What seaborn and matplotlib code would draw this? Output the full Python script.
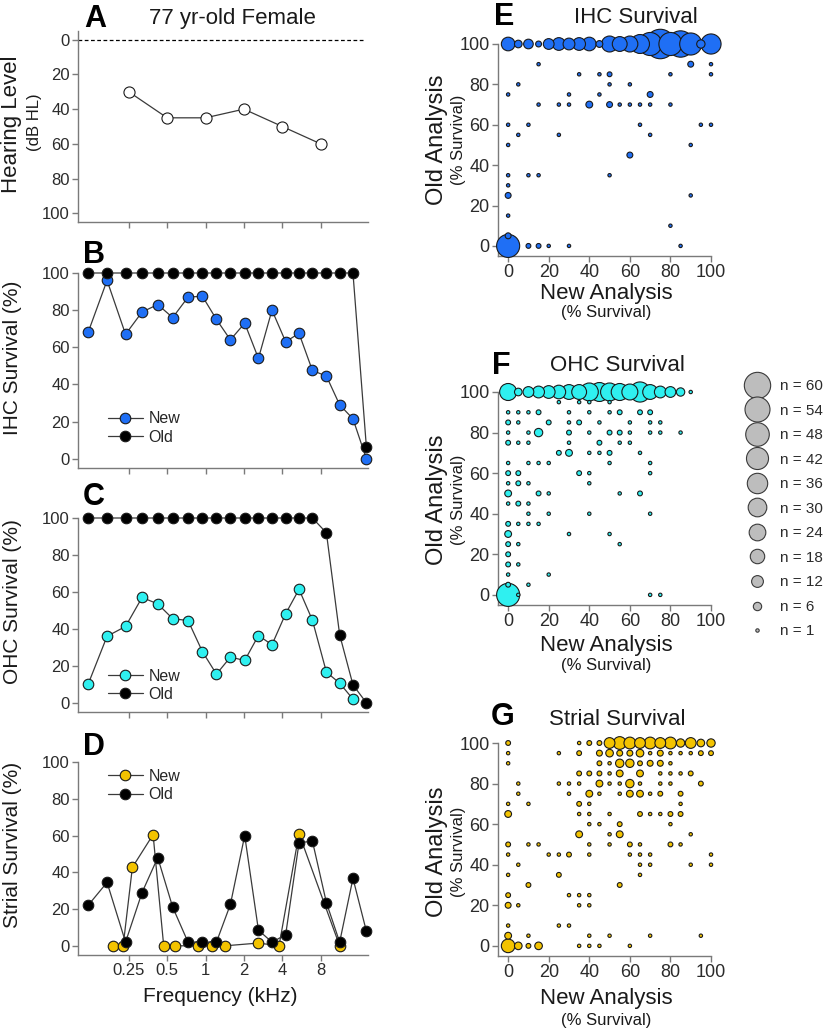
import numpy as np
import pandas as pd
import matplotlib
matplotlib.use("Agg")
import matplotlib.pyplot as plt
import seaborn as sns
from matplotlib.lines import Line2D
from matplotlib.ticker import FixedLocator, NullLocator

# ---------------- data ----------------
# Panel A: audiogram
aud_freq = [0.25, 0.5, 1, 2, 4, 8]
aud_hl = [30, 45, 45, 40, 50, 60]

# Cochlear-place frequencies (kHz) used for survival profiles
place_freq = [0.120, 0.169, 0.236, 0.318, 0.422, 0.553, 0.729, 0.945, 1.218, 1.567,
              2.029, 2.60, 3.32, 4.25, 5.41, 6.89, 8.87, 11.27, 14.33, 18.25]

# Panel B: IHC survival
ihc_new = [68, 96, 67, 79, 83, 76, 87, 87.5, 75, 64, 73, 54, 80, 63, 67.5, 47.5, 44.5, 29, 21.5, 0]
ihc_old = [100, 100, 100, 100, 100, 100, 100, 100, 100, 100, 100, 100, 100, 100, 100, 100, 100, 100, 100, 6.5]

# Panel C: OHC survival
ohc_new_freq = [0.120, 0.169, 0.236, 0.318, 0.422, 0.553, 0.729, 0.945, 1.218, 1.567,
                2.029, 2.60, 3.32, 4.25, 5.41, 6.89, 8.87, 11.27, 14.33]
ohc_new = [10, 36, 41.3, 57, 53.5, 45.5, 44.5, 27.7, 15.5, 24.7, 22.9, 36.4, 31.4, 48.2, 61.4, 44.7, 16.6, 10.6, 2]
ohc_old = [100, 100, 100, 100, 100, 100, 100, 100, 100, 100, 100, 100, 100, 100, 100, 100, 92, 36.8, 9.7, 0]

# Panel D: strial survival
strial_new_freq = [0.188, 0.226, 0.267, 0.388, 0.470, 0.577, 0.880, 1.118, 1.422, 2.60, 3.77, 5.41, 11.27]
strial_new = [0, 0, 42.7, 60.5, 0, 0, 0, 0, 0, 1.5, 0, 61, 0]
strial_old = [22, 34.5, 2, 29, 48, 21, 2, 2, 2, 22.5, 60, 8.5, 2, 6, 56, 57, 23.5, 2, 36.7, 8]

freq_ticks = [0.25, 0.5, 1, 2, 4, 8]
freq_tick_labels = ["0.25", "0.5", "1", "2", "4", "8"]
pct_ticks = [0, 20, 40, 60, 80, 100]

# Panel E: IHC new vs old (x = new %, y = old %, n = count)
ihc_sc_new = [0, 5, 10, 15, 20, 25, 30, 35, 40, 45, 50, 55, 60, 65, 70, 75, 80, 85, 90, 95, 100,
              15, 90, 100, 35, 45, 50, 80, 100, 5, 50, 60, 0, 30, 45, 70,
              15, 25, 30, 40, 50, 55, 60, 65, 70, 80, 0, 10, 65, 95, 100, 5, 25, 70, 0, 90, 60,
              0, 10, 15, 50, 0, 0, 90, 0, 80, 0, 0, 10, 15, 20, 30, 85]
ihc_sc_old = [100, 100, 100, 100, 100, 100, 100, 100, 100, 100, 100, 100, 100, 100, 100, 100, 100, 100, 100, 100, 100,
              90, 90, 90, 85, 85, 85, 85, 85, 80, 80, 80, 75, 75, 75, 75,
              70, 70, 70, 70, 70, 70, 70, 70, 70, 70, 60, 60, 60, 60, 60, 55, 55, 55, 50, 50, 45,
              35, 35, 35, 35, 30, 25, 25, 15, 10, 5, 0, 0, 0, 0, 0, 0]
ihc_sc_n = [16, 5, 8, 3, 10, 14, 12, 14, 16, 4, 22, 19, 22, 31, 46, 75, 46, 60, 42, 6, 35,
            1, 3, 1, 1, 1, 2, 1, 1, 1, 1, 1, 1, 1, 1, 3,
            1, 1, 1, 4, 3, 1, 1, 1, 1, 1, 1, 1, 1, 1, 1, 1, 1, 1, 1, 1, 3,
            1, 1, 1, 1, 1, 3, 1, 1, 1, 3, 46, 2, 2, 1, 1, 1]

# Panel F: OHC new vs old
ohc_sc_new = [0, 5, 10, 15, 20, 25, 30, 35, 40, 45, 50, 55, 60, 65, 70, 75, 80, 85, 90,
              25, 35, 40, 50,
              0, 5, 10, 15, 30, 40, 50, 55, 65, 70,
              0, 5, 20, 30, 35, 45, 60, 70, 75,
              0, 10, 15, 30, 40, 50, 55, 60, 70, 75, 85,
              0, 5, 10, 30, 45, 55, 60,
              25, 30, 40, 45, 50, 65,
              0, 10, 15, 20, 50, 70,
              0, 5, 35, 40, 70,
              0, 5, 10, 40,
              0, 15, 20, 55, 65,
              0, 5, 10,
              10, 20, 40, 70,
              0, 5, 10, 15,
              0, 30, 50,
              0, 5, 55,
              0,
              0, 5,
              0, 20,
              0, 10,
              0, 5, 70, 75]
ohc_sc_old = [100, 100, 100, 100, 100, 100, 100, 100, 100, 100, 100, 100, 100, 100, 100, 100, 100, 100, 100,
              95, 95, 95, 95,
              90, 90, 90, 90, 90, 90, 90, 90, 90, 90,
              85, 85, 85, 85, 85, 85, 85, 85, 85,
              80, 80, 80, 80, 80, 80, 80, 80, 80, 80, 80,
              75, 75, 75, 75, 75, 75, 75,
              70, 70, 70, 70, 70, 70,
              65, 65, 65, 65, 65, 65,
              60, 60, 60, 60, 60,
              55, 55, 55, 55,
              50, 50, 50, 50, 50,
              45, 45, 45,
              40, 40, 40, 40,
              35, 35, 35, 35,
              30, 30, 30,
              25, 25, 25,
              20,
              15, 15,
              10, 10,
              5, 5,
              0, 0, 0, 0]
ohc_sc_n = [25, 5, 10, 12, 14, 16, 19, 19, 28, 31, 28, 25, 22, 35, 19, 12, 10, 6, 1,
            1, 1, 1, 1,
            1, 1, 1, 2, 1, 1, 1, 2, 2, 2,
            2, 1, 2, 1, 2, 1, 1, 1, 1,
            1, 1, 6, 2, 1, 2, 2, 1, 1, 1, 1,
            2, 1, 1, 1, 2, 1, 1,
            2, 4, 1, 1, 2, 1,
            1, 1, 1, 1, 1, 1,
            2, 2, 2, 1, 1,
            1, 2, 1, 1,
            4, 2, 1, 1, 2,
            1, 2, 1,
            1, 1, 1, 1,
            2, 1, 1, 1,
            4, 1, 1,
            2, 1, 1,
            2,
            2, 1,
            1, 1,
            2, 1,
            46, 1, 1, 1]

# Panel G: strial new vs old
str_sc_new = [0, 35, 40, 45, 50, 55, 60, 65, 70, 75, 80, 85, 90, 95, 100,
              0, 25, 35, 45, 50, 55, 60, 65, 70, 75, 80, 85, 90, 95, 100,
              0, 45, 50, 55, 60, 65, 70, 75, 80,
              35, 40, 45, 50, 55, 65, 75, 80, 85, 90,
              5, 25, 30, 35, 45, 50, 55, 60, 65, 75, 80, 95,
              5, 30, 40, 45, 55, 60, 65, 70, 75, 85,
              0, 10, 35, 40, 85,
              0, 35, 40, 50, 65, 70, 75, 80, 85,
              40, 45, 55, 80,
              35, 50, 55, 90,
              0, 10, 15, 40, 50, 60, 65, 80, 85,
              0, 20, 25, 30, 40, 60, 65, 70, 100,
              5, 65, 70, 90, 100,
              0, 25, 65,
              10, 55,
              0, 30, 35, 40,
              0, 5, 35, 40,
              0, 25, 30,
              0, 10, 40, 50, 70, 95,
              0, 5, 10, 15, 35, 40, 45, 60]
str_sc_old = [100, 100, 100, 100, 100, 100, 100, 100, 100, 100, 100, 100, 100, 100, 100,
              95, 95, 95, 95, 95, 95, 95, 95, 95, 95, 95, 95, 95, 95, 95,
              90, 90, 90, 90, 90, 90, 90, 90, 90,
              85, 85, 85, 85, 85, 85, 85, 85, 85, 85,
              80, 80, 80, 80, 80, 80, 80, 80, 80, 80, 80, 80,
              75, 75, 75, 75, 75, 75, 75, 75, 75, 75,
              70, 70, 70, 70, 70,
              65, 65, 65, 65, 65, 65, 65, 65, 65,
              60, 60, 60, 60,
              55, 55, 55, 55,
              50, 50, 50, 50, 50, 50, 50, 50, 50,
              45, 45, 45, 45, 45, 45, 45, 45, 45,
              40, 40, 40, 40, 40,
              35, 35, 35,
              30, 30,
              25, 25, 25, 25,
              20, 20, 20, 20,
              10, 10, 10,
              5, 5, 5, 5, 5, 5,
              0, 0, 0, 0, 0, 0, 0, 0]
str_sc_n = [2, 1, 2, 2, 10, 14, 12, 10, 12, 10, 12, 6, 10, 5, 6,
            1, 1, 2, 3, 5, 3, 3, 5, 1, 3, 1, 1, 1, 2, 2,
            1, 2, 1, 6, 6, 2, 3, 3, 1,
            2, 2, 2, 1, 4, 4, 1, 1, 1, 2,
            1, 1, 1, 1, 4, 1, 1, 6, 1, 1, 1, 2,
            1, 1, 4, 1, 1, 4, 4, 1, 2, 2,
            1, 1, 2, 1, 1,
            4, 1, 1, 1, 2, 1, 1, 2, 2,
            1, 1, 2, 1,
            4, 1, 4, 1,
            2, 1, 1, 1, 1, 2, 1, 2, 1,
            1, 1, 1, 2, 1, 1, 1, 1, 1,
            1, 1, 1, 1, 1,
            1, 2, 1,
            2, 2,
            2, 1, 1, 1,
            3, 1, 1, 1,
            1, 1, 1,
            4, 1, 1, 1, 1, 1,
            16, 5, 2, 5, 1, 1, 1, 1]

legend_n = [60, 54, 48, 42, 36, 30, 24, 18, 12, 6, 1]

# ---------------- style ----------------
sns.set_theme(style="ticks")
plt.rcParams["font.family"] = ["Liberation Sans", "DejaVu Sans"]

W, H = 825, 1031
fig = plt.figure(figsize=(W / 100, H / 100), dpi=100)

K = 6.0  # marker area (pt^2) per counted cell
SPINE = "#7a7a7a"
TXT = "#2b2b2b"
EDGE = "#1a1a1a"
LINE = "#3a3a3a"
BLUE = "#1f6ff5"
CYAN = "#2ff0f0"
GOLD = "#f3c300"


def ax_px(l, t, r, b):
    return fig.add_axes([l / W, 1 - b / H, (r - l) / W, (b - t) / H])


def ftext(x, y, s, **kw):
    return fig.text(x / W, 1 - y / H, s, **kw)


def style_axes(ax, size):
    sns.despine(ax=ax)
    for s in ["left", "bottom"]:
        ax.spines[s].set_color(SPINE)
        ax.spines[s].set_linewidth(1.0)
    ax.tick_params(direction="out", length=4, width=1, color=SPINE,
                   labelcolor=TXT, labelsize=size, pad=2)
    ax.set_xlabel("")
    ax.set_ylabel("")


def line(ax, x, y, face, label=None, ms=7.6):
    sns.lineplot(x=x, y=y, ax=ax, estimator=None, errorbar=None, sort=True,
                 color=LINE, linewidth=0.9, marker="o", markersize=ms,
                 markerfacecolor=face, markeredgecolor=EDGE, markeredgewidth=0.8,
                 clip_on=False, label=label, zorder=3)


def freq_axis(ax, labels):
    ax.set_xscale("log")
    ax.set_xlim(0.1, 18.8)
    ax.xaxis.set_major_locator(FixedLocator(freq_ticks))
    ax.xaxis.set_minor_locator(NullLocator())
    if labels:
        ax.set_xticklabels(freq_tick_labels)
    else:
        ax.tick_params(axis="x", labelbottom=False)


def line_legend(ax, x, y):
    h, l = ax.get_legend_handles_labels()
    ax.legend(h, l, loc="center left", bbox_to_anchor=(x, y), frameon=False,
              fontsize=11.5, handlelength=2.2, handletextpad=0.35,
              labelspacing=0.2, borderpad=0, borderaxespad=0, numpoints=1)


# ---------------- left column ----------------
axA = ax_px(78, 31, 368, 222)
axA.axhline(0, xmin=0, xmax=0.99, color="black", lw=0.9, ls=(0, (3, 2)), zorder=1)
line(axA, aud_freq, aud_hl, "white", ms=8)
axA.set_ylim(105, -5)
axA.set_yticks(pct_ticks)
freq_axis(axA, False)
style_axes(axA, 12)

axB = ax_px(78, 273, 368, 468)
line(axB, place_freq, ihc_new, BLUE, "New")
line(axB, place_freq, ihc_old, "black", "Old")
axB.set_ylim(-5, 100)
axB.set_yticks(pct_ticks)
freq_axis(axB, False)
style_axes(axB, 12)
line_legend(axB, 0.103, 0.205)

axC = ax_px(78, 518, 368, 712)
line(axC, ohc_new_freq, ohc_new, CYAN, "New")
line(axC, place_freq, ohc_old, "black", "Old")
axC.set_ylim(-5, 100)
axC.set_yticks(pct_ticks)
freq_axis(axC, False)
style_axes(axC, 12)
line_legend(axC, 0.103, 0.137)

axD = ax_px(78, 762, 368, 955)
line(axD, strial_new_freq, strial_new, GOLD, "New")
line(axD, place_freq, strial_old, "black", "Old")
axD.set_ylim(-5, 100)
axD.set_yticks(pct_ticks)
freq_axis(axD, True)
style_axes(axD, 12)
line_legend(axD, 0.103, 0.878)

# ---------------- right column ----------------
def scatter_panel(ax, xs, ys, ns, color):
    df = pd.DataFrame({"new": xs, "old": ys, "n": ns})
    df = df.sort_values("n", ascending=False, kind="stable")
    sns.scatterplot(data=df, x="new", y="old", size="n", sizes=(K * 1, K * 80),
                    size_norm=(1, 80), color=color, edgecolor=EDGE, linewidth=0.8,
                    legend=False, clip_on=False, ax=ax, zorder=3)
    ax.set_xlim(-5, 100)
    ax.set_ylim(-5, 100)
    ax.set_xticks(pct_ticks)
    ax.set_yticks(pct_ticks)
    style_axes(ax, 13)


axE = ax_px(498, 44, 711, 256)
scatter_panel(axE, ihc_sc_new, ihc_sc_old, ihc_sc_n, BLUE)
axF = ax_px(498, 392, 711, 605)
scatter_panel(axF, ohc_sc_new, ohc_sc_old, ohc_sc_n, CYAN)
axG = ax_px(498, 743, 711, 956)
scatter_panel(axG, str_sc_new, str_sc_old, str_sc_n, GOLD)

# size legend
handles = [Line2D([], [], ls="", marker="o", markersize=np.sqrt(K * n),
                  markerfacecolor="#bdbdbd", markeredgecolor="#3a3a3a",
                  markeredgewidth=0.8) for n in legend_n]
labels = [f"n = {n}" for n in legend_n]
fig.legend(handles, labels, loc="upper left", bbox_to_anchor=(741.7 / W, 1 - 379 / H),
           frameon=False, fontsize=11, handlelength=2.0, handletextpad=0.5,
           labelspacing=0.69, borderpad=0, borderaxespad=0, labelcolor=TXT)

# ---------------- texts ----------------
bold = dict(fontsize=22, fontweight="bold", ha="left", va="baseline", color="black")
ftext(84, 27, "A", **bold)
ftext(83, 263, "B", **bold)
ftext(83, 505, "C", **bold)
ftext(83, 755, "D", **bold)
ftext(494, 25, "E", **bold)
ftext(492, 374, "F", **bold)
ftext(491, 725, "G", **bold)

ttl = dict(fontsize=16, ha="center", va="baseline", color="#1a1a1a")
ftext(232, 24, "77 yr-old Female", **ttl)
ftext(636, 23, "IHC Survival", **ttl)
ftext(617, 371, "OHC Survival", **ttl)
ftext(617, 725, "Strial Survival", **ttl)

yl = dict(rotation=90, ha="center", va="center", color="#1a1a1a")
ftext(12, 124, "Hearing Level", fontsize=16, **yl)
ftext(34, 122, "(dB HL)", fontsize=12, **yl)
ftext(13, 358, "IHC Survival (%)", fontsize=15, **yl)
ftext(13, 602, "OHC Survival (%)", fontsize=15, **yl)
ftext(13, 845, "Strial Survival (%)", fontsize=15, **yl)
ftext(220, 997, "Frequency (kHz)", fontsize=15, ha="center", va="center", color="#1a1a1a")

for yc in (140, 500, 852):
    ftext(437, yc, "Old Analysis", fontsize=17, **yl)
    ftext(458, yc, "(% Survival)", fontsize=12, **yl)

xl = dict(ha="center", va="baseline", color="#1a1a1a")
for yb1, yb2 in ((299, 317), (651, 670), (1004, 1025)):
    ftext(606, yb1, "New Analysis", fontsize=16, **xl)
    ftext(606, yb2, "(% Survival)", fontsize=12, **xl)

fig.savefig("out.png", dpi=100)
